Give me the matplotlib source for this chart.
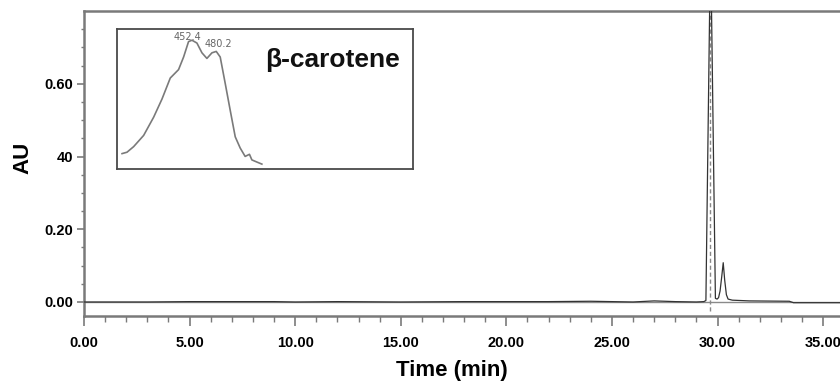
import matplotlib
matplotlib.use("Agg")
import matplotlib.pyplot as plt
import numpy as np

# ============================
# DATA
# ============================
# chromatogram (time in min, absorbance AU)
time_min = [0.0, 3.0, 5.0, 7.0, 9.0, 10.0, 12.0, 15.0, 18.0, 20.0, 22.0, 24.0,
            25.0, 26.0, 27.0, 28.0, 29.0, 29.35, 29.45, 29.67, 29.90, 29.98,
            30.05, 30.12, 30.2, 30.27, 30.34, 30.42, 30.5, 30.7, 31.5, 33.4,
            33.6, 35.8]
au = [0.0, 0.0, 0.001, 0.001, 0.001, 0.0, 0.001, 0.0, 0.001, 0.001, 0.001, 0.002,
      0.001, 0.0, 0.003, 0.001, 0.0, 0.001, 0.004, 1.00, 0.01, 0.008,
      0.012, 0.03, 0.07, 0.108, 0.06, 0.02, 0.008, 0.005, 0.003, 0.002,
      -0.002, -0.002]
peak_time = 29.65

# inset UV-Vis spectrum (wavelength nm, relative absorbance)
wavelength = [376.6, 382.1, 389.5, 400.6, 411.7, 421.0, 430.2, 439.4, 445.0,
              450.5, 454.3, 459.8, 465.4, 470.9, 476.5, 481.3, 485.7, 491.3,
              496.8, 502.4, 507.9, 513.4, 518.2, 520.9, 526.4, 532.0]
absorb = [0.11, 0.12, 0.16, 0.24, 0.37, 0.50, 0.65, 0.71, 0.80,
          0.91, 0.92, 0.90, 0.83, 0.79, 0.83, 0.84, 0.80, 0.61,
          0.42, 0.23, 0.15, 0.09, 0.105, 0.065, 0.05, 0.035]
peak_labels = ["452.4", "480.2"]

x_major = [0, 5, 10, 15, 20, 25, 30, 35]
x_labels = ["0.00", "5.00", "10.00", "15.00", "20.00", "25.00", "30.00", "35.00"]
y_major = [0.0, 0.2, 0.4, 0.6]
y_labels = ["0.00", "0.20", "40", "0.60"]

# ============================
# PLOT
# ============================
tick_font = dict(family=["Liberation Sans"], weight="bold", size=10.5)
spine_col = "#7a7a7a"

fig = plt.figure(figsize=(8.4, 3.88), dpi=100)
ax = fig.add_axes([0.1, 0.1856, 0.9, 0.786])

ax.axhline(0, color="#8a8a8a", lw=1.0, zorder=1)
ax.vlines(peak_time, -0.025, 0.80, colors="#888888", linestyles=(0, (3, 2)),
          lw=1.0, zorder=2)
ax.plot(time_min, au, color="#333333", lw=0.9, zorder=3)

ax.set_xlim(0, 35.8)
ax.set_ylim(-0.0385, 0.80)

ax.set_xticks(x_major)
ax.set_xticklabels(x_labels, fontdict=tick_font)
ax.set_xticks(np.arange(0, 36, 1), minor=True)
ax.set_yticks(y_major)
ax.set_yticklabels(y_labels, fontdict=tick_font)
ax.set_yticks(np.arange(0.05, 0.80, 0.05), minor=True)

ax.tick_params(axis="x", which="major", direction="out", length=7.5, width=1.2,
               color=spine_col, pad=7)
ax.tick_params(axis="x", which="minor", direction="out", length=4, width=1.0,
               color=spine_col)
ax.tick_params(axis="y", which="major", direction="out", length=5, width=1.2,
               color=spine_col, pad=3)
ax.tick_params(axis="y", which="minor", direction="out", length=2.5, width=1.0,
               color=spine_col)

for side in ["left", "bottom", "top"]:
    ax.spines[side].set_color(spine_col)
    ax.spines[side].set_linewidth(1.8)
ax.spines["right"].set_visible(False)

ax.set_xlabel("Time (min)", family=["Liberation Sans"], weight="bold", size=16)
ax.xaxis.label.set_va("center")
ax.xaxis.set_label_coords(0.487, -0.18)
ax.set_ylabel("AU", family=["Liberation Sans"], weight="bold", size=16)
ax.yaxis.set_label_coords(-0.0675, 0.52)

# inset spectrum
ins = fig.add_axes([0.1393, 0.5644, 0.3524, 0.3608])
ins.plot(wavelength, absorb, color="#7a7a7a", lw=1.2)
ins.set_xlim(371, 700)
ins.set_ylim(0, 1)
ins.set_xticks([])
ins.set_yticks([])
for s in ins.spines.values():
    s.set_color("#4a4a4a")
    s.set_linewidth(1.3)

ins.text(449, 0.943, peak_labels[0], ha="center", va="center",
         fontsize=7, color="#666666")
ins.text(483.5, 0.893, peak_labels[1], ha="center", va="center",
         fontsize=7, color="#666666")
ins.text(0.5, 0.78, "β-carotene", transform=ins.transAxes, ha="left",
         va="center", family=["Liberation Sans"], weight="bold", size=19,
         color="#111111")

fig.savefig("out.png", dpi=100)
